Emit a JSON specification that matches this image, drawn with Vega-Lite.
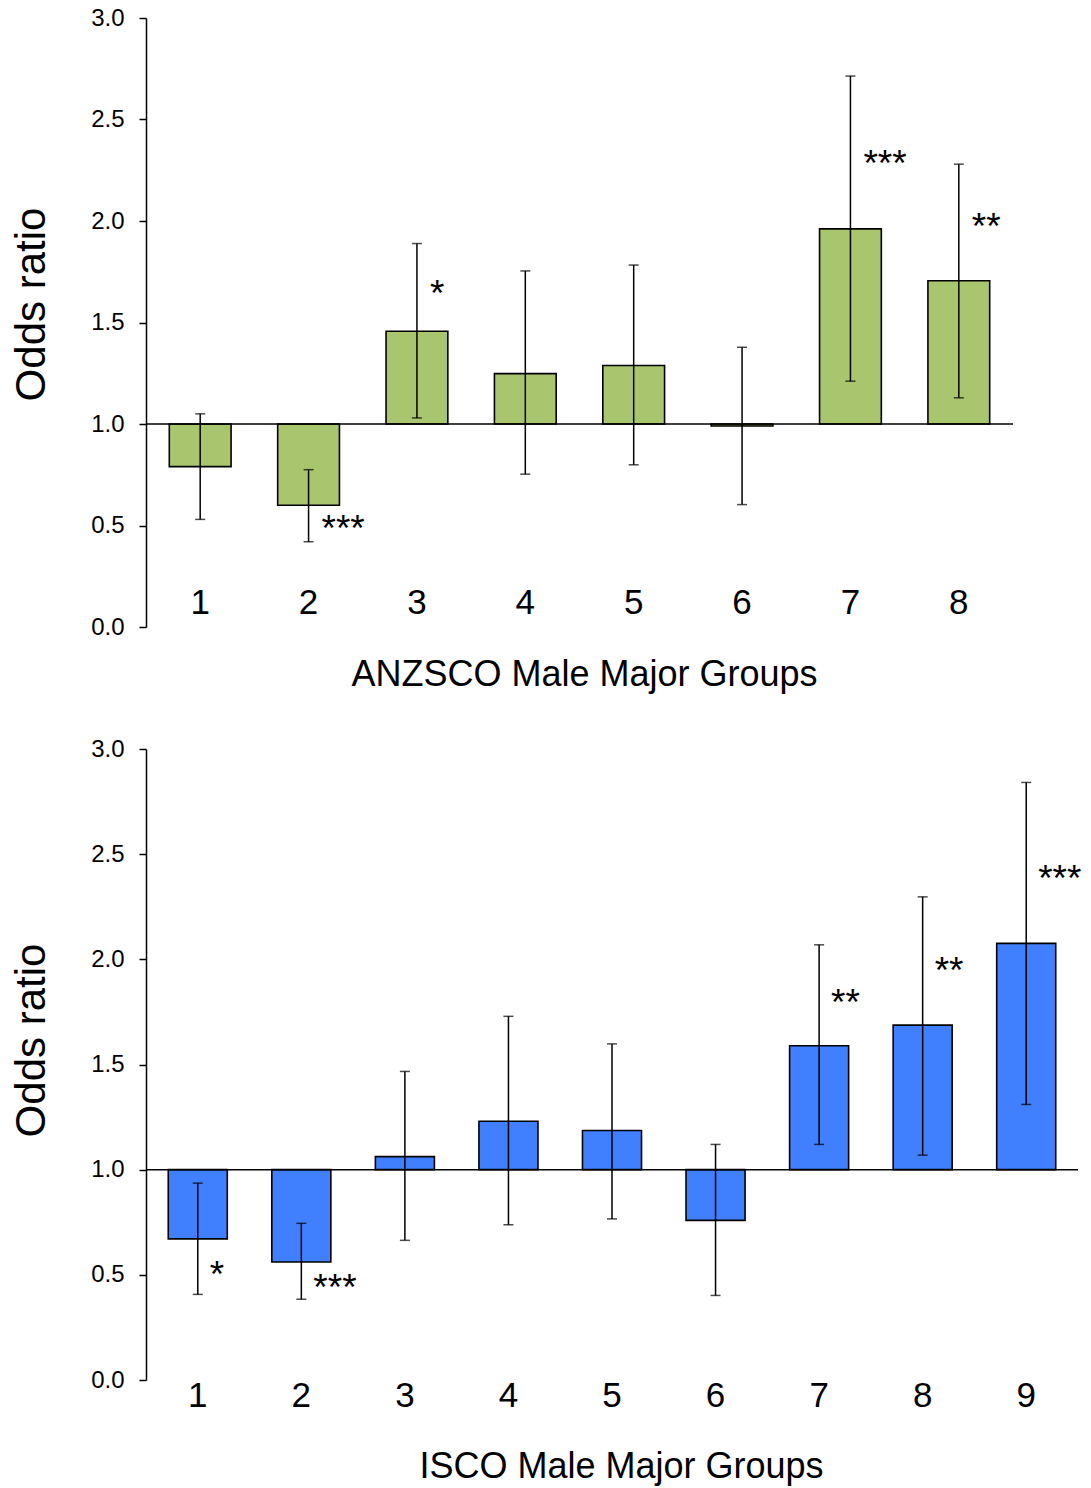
{
  "$schema": "https://vega.github.io/schema/vega-lite/v6.json",
  "background": "white",
  "padding": {"top": 6, "left": 10, "right": 5, "bottom": 5},
  "spacing": 45,
  "config": {
    "font": "Liberation Sans",
    "view": {"stroke": null},
    "axis": {
      "grid": false,
      "labelColor": "black",
      "titleColor": "black",
      "domainColor": "black",
      "tickColor": "black",
      "labelFont": "Liberation Sans",
      "titleFont": "Liberation Sans",
      "titleFontWeight": "normal"
    }
  },
  "datasets": {
    "anzsco": [
      {"group": "1", "or": 0.79, "lo": 0.53, "hi": 1.05, "sig": "", "sig_y": null},
      {"group": "2", "or": 0.60, "lo": 0.42, "hi": 0.775, "sig": "***", "sig_y": 0.515},
      {"group": "3", "or": 1.457, "lo": 1.03, "hi": 1.889, "sig": "*", "sig_y": 1.677},
      {"group": "4", "or": 1.248, "lo": 0.753, "hi": 1.754, "sig": "", "sig_y": null},
      {"group": "5", "or": 1.288, "lo": 0.799, "hi": 1.783, "sig": "", "sig_y": null},
      {"group": "6", "or": 0.99, "lo": 0.603, "hi": 1.378, "sig": "", "sig_y": null},
      {"group": "7", "or": 1.961, "lo": 1.211, "hi": 2.714, "sig": "***", "sig_y": 2.313},
      {"group": "8", "or": 1.706, "lo": 1.129, "hi": 2.28, "sig": "**", "sig_y": 2.007}
    ],
    "isco": [
      {"group": "1", "or": 0.671, "lo": 0.407, "hi": 0.936, "sig": "*", "sig_y": 0.533},
      {"group": "2", "or": 0.561, "lo": 0.384, "hi": 0.745, "sig": "***", "sig_y": 0.471},
      {"group": "3", "or": 1.062, "lo": 0.664, "hi": 1.467, "sig": "", "sig_y": null},
      {"group": "4", "or": 1.23, "lo": 0.738, "hi": 1.729, "sig": "", "sig_y": null},
      {"group": "5", "or": 1.186, "lo": 0.766, "hi": 1.598, "sig": "", "sig_y": null},
      {"group": "6", "or": 0.759, "lo": 0.402, "hi": 1.12, "sig": "", "sig_y": null},
      {"group": "7", "or": 1.589, "lo": 1.12, "hi": 2.069, "sig": "**", "sig_y": 1.826},
      {"group": "8", "or": 1.687, "lo": 1.069, "hi": 2.297, "sig": "**", "sig_y": 1.978},
      {"group": "9", "or": 2.076, "lo": 1.31, "hi": 2.841, "sig": "***", "sig_y": 2.416}
    ]
  },
  "vconcat": [
    {
      "width": 867,
      "height": 609,
      "layer": [
        {
          "data": {"name": "anzsco"},
          "mark": {"type": "bar", "fill": "#A9C56D", "stroke": "black", "strokeWidth": 1.6},
          "encoding": {
            "x": {
              "field": "group", "type": "nominal", "sort": null,
              "scale": {"paddingInner": 0.43, "paddingOuter": 0.215},
              "axis": {
                "title": "ANZSCO Male Major Groups", "titleFontSize": 36, "titlePadding": 30, "titleX": 438,
                "labelAngle": 0, "labelFontSize": 35, "labelPadding": -42,
                "domain": false, "ticks": false
              }
            },
            "y": {
              "field": "or", "type": "quantitative",
              "scale": {"domain": [0, 3], "nice": false},
              "axis": {
                "title": "Odds ratio", "titleFontSize": 42, "titlePadding": 37, "titleY": 286,
                "values": [0, 0.5, 1, 1.5, 2, 2.5, 3], "format": ".1f",
                "labelFontSize": 24, "labelPadding": 15, "tickSize": 7,
                "domainWidth": 1.5, "tickWidth": 1.5
              }
            },
            "y2": {"datum": 1}
          }
        },
        {
          "data": {"values": [{}]},
          "mark": {"type": "rule", "color": "black", "strokeWidth": 1.5},
          "encoding": {"y": {"datum": 1, "type": "quantitative"}}
        },
        {
          "data": {"name": "anzsco"},
          "mark": {"type": "rule", "color": "black", "strokeWidth": 1.5},
          "encoding": {
            "x": {"field": "group", "type": "nominal", "sort": null},
            "y": {"field": "lo", "type": "quantitative"},
            "y2": {"field": "hi"}
          }
        },
        {
          "data": {"name": "anzsco"},
          "mark": {"type": "tick", "color": "black", "thickness": 1.5, "size": 10, "orient": "horizontal"},
          "encoding": {
            "x": {"field": "group", "type": "nominal", "sort": null},
            "y": {"field": "lo", "type": "quantitative"}
          }
        },
        {
          "data": {"name": "anzsco"},
          "mark": {"type": "tick", "color": "black", "thickness": 1.5, "size": 10, "orient": "horizontal"},
          "encoding": {
            "x": {"field": "group", "type": "nominal", "sort": null},
            "y": {"field": "hi", "type": "quantitative"}
          }
        },
        {
          "data": {"name": "anzsco"},
          "mark": {"type": "text", "align": "left", "baseline": "alphabetic", "dx": 13, "dy": 19, "fontSize": 37, "color": "black"},
          "encoding": {
            "x": {"field": "group", "type": "nominal", "sort": null},
            "y": {"field": "sig_y", "type": "quantitative"},
            "text": {"field": "sig"}
          }
        }
      ]
    },
    {
      "width": 932,
      "height": 631,
      "layer": [
        {
          "data": {"name": "isco"},
          "mark": {"type": "bar", "fill": "#4080FF", "stroke": "black", "strokeWidth": 1.6},
          "encoding": {
            "x": {
              "field": "group", "type": "nominal", "sort": null,
              "scale": {"paddingInner": 0.43, "paddingOuter": 0.215},
              "axis": {
                "title": "ISCO Male Major Groups", "titleFontSize": 36, "titlePadding": 36, "titleX": 475,
                "labelAngle": 0, "labelFontSize": 35, "labelPadding": -2,
                "domain": false, "ticks": false
              }
            },
            "y": {
              "field": "or", "type": "quantitative",
              "scale": {"domain": [0, 3], "nice": false},
              "axis": {
                "title": "Odds ratio", "titleFontSize": 42, "titlePadding": 37, "titleY": 291,
                "values": [0, 0.5, 1, 1.5, 2, 2.5, 3], "format": ".1f",
                "labelFontSize": 24, "labelPadding": 15, "tickSize": 7,
                "domainWidth": 1.5, "tickWidth": 1.5
              }
            },
            "y2": {"datum": 1}
          }
        },
        {
          "data": {"values": [{}]},
          "mark": {"type": "rule", "color": "black", "strokeWidth": 1.5},
          "encoding": {"y": {"datum": 1, "type": "quantitative"}}
        },
        {
          "data": {"name": "isco"},
          "mark": {"type": "rule", "color": "black", "strokeWidth": 1.5},
          "encoding": {
            "x": {"field": "group", "type": "nominal", "sort": null},
            "y": {"field": "lo", "type": "quantitative"},
            "y2": {"field": "hi"}
          }
        },
        {
          "data": {"name": "isco"},
          "mark": {"type": "tick", "color": "black", "thickness": 1.5, "size": 10, "orient": "horizontal"},
          "encoding": {
            "x": {"field": "group", "type": "nominal", "sort": null},
            "y": {"field": "lo", "type": "quantitative"}
          }
        },
        {
          "data": {"name": "isco"},
          "mark": {"type": "tick", "color": "black", "thickness": 1.5, "size": 10, "orient": "horizontal"},
          "encoding": {
            "x": {"field": "group", "type": "nominal", "sort": null},
            "y": {"field": "hi", "type": "quantitative"}
          }
        },
        {
          "data": {"name": "isco"},
          "mark": {"type": "text", "align": "left", "baseline": "alphabetic", "dx": 12, "dy": 19, "fontSize": 37, "color": "black"},
          "encoding": {
            "x": {"field": "group", "type": "nominal", "sort": null},
            "y": {"field": "sig_y", "type": "quantitative"},
            "text": {"field": "sig"}
          }
        }
      ]
    }
  ]
}
